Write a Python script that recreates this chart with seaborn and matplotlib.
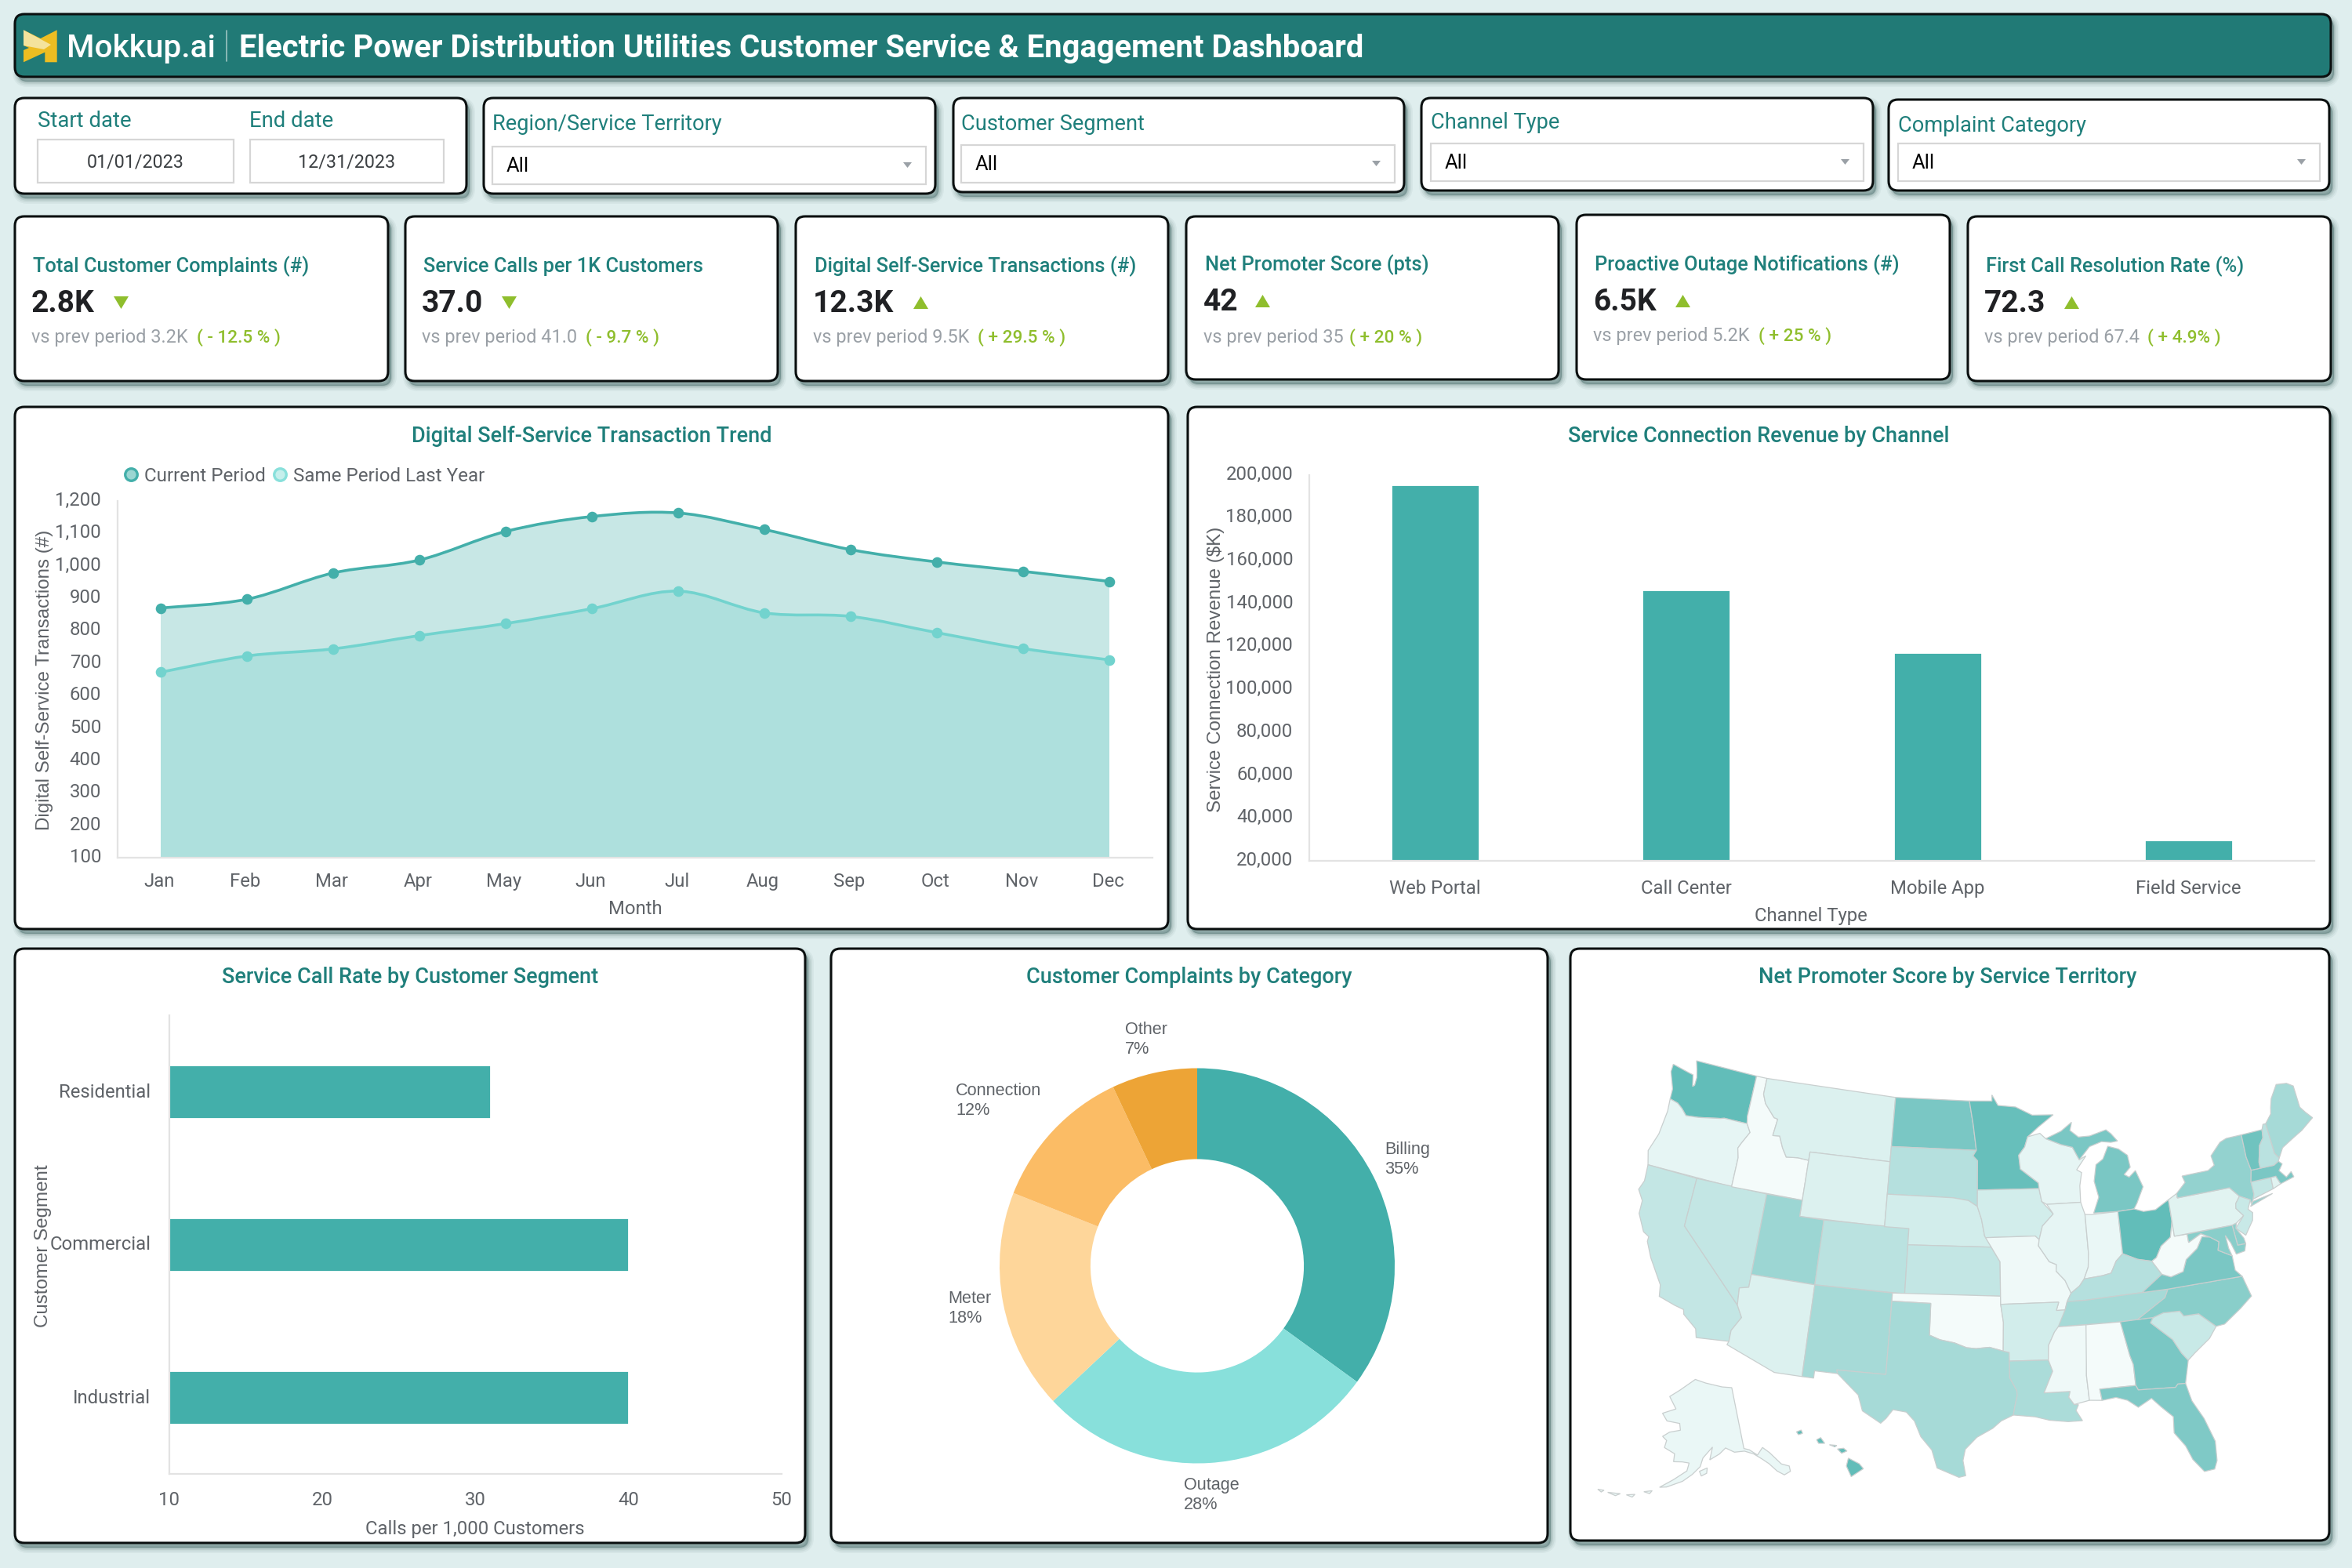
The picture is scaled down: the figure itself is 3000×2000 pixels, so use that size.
import numpy as np
import pandas as pd
import matplotlib
matplotlib.use("Agg")
import matplotlib.pyplot as plt
from matplotlib.patches import FancyBboxPatch, PathPatch, Rectangle
from matplotlib.path import Path
from matplotlib.lines import Line2D
from matplotlib.transforms import ScaledTranslation
import seaborn as sns

# ---- data ----
months = ['Jan', 'Feb', 'Mar', 'Apr', 'May', 'Jun', 'Jul', 'Aug', 'Sep', 'Oct', 'Nov', 'Dec']
current_period = [870, 897, 978, 1018, 1106, 1152, 1163, 1112, 1050, 1012, 983, 952]
last_year = [672, 722, 744, 785, 822, 868, 922, 855, 844, 794, 745, 710]

channels = ['Web Portal', 'Call Center', 'Mobile App', 'Field Service']
channel_revenue = [195400, 146300, 117300, 29700]

segments = ['Residential', 'Commercial', 'Industrial']
call_rate = [31, 40, 40]

complaint_cats = ['Billing', 'Outage', 'Meter', 'Connection', 'Other']
complaint_share = [35, 28, 18, 12, 7]
complaint_colors = ['#43AFAA', '#88E0DB', '#FED69A', '#FBBC65', '#EDA436']

kpi_titles = ['Total Customer Complaints (#)', 'Service Calls per 1K Customers',
              'Digital Self-Service Transactions (#)', 'Net Promoter Score (pts)',
              'Proactive Outage Notifications (#)', 'First Call Resolution Rate (%)']
kpi_values = ['2.8K', '37.0', '12.3K', '42', '6.5K', '72.3']
kpi_prev = ['vs prev period 3.2K', 'vs prev period 41.0', 'vs prev period 9.5K',
            'vs prev period 35', 'vs prev period 5.2K', 'vs prev period 67.4']
kpi_delta = ['( - 12.5 % )', '( - 9.7 % )', '( + 29.5 % )', '( + 20 % )', '( + 25 % )', '( + 4.9% )']

nps = {'WA': 60, 'OR': 33, 'CA': 40, 'NV': 40, 'ID': 30, 'MT': 35, 'WY': 35, 'UT': 48, 'AZ': 35, 'CO': 42,
       'NM': 46, 'ND': 55, 'SD': 43, 'NE': 37, 'KS': 40, 'OK': 30, 'TX': 46, 'MN': 59, 'IA': 37, 'MO': 31,
       'AR': 37, 'LA': 45, 'WI': 33, 'IL': 33, 'IN': 32, 'MI': 55, 'OH': 60, 'KY': 43, 'TN': 46, 'MS': 31,
       'AL': 30, 'GA': 55, 'FL': 54, 'SC': 39, 'NC': 52, 'VA': 55, 'WV': 30, 'PA': 34, 'NY': 50, 'NJ': 39,
       'DE': 51, 'MD': 52, 'CT': 40, 'RI': 34, 'MA': 55, 'VT': 57, 'NH': 42, 'ME': 46, 'AK': 32, 'HI': 60}

# rough state outlines, lon/lat
states = {
 'WA': [[(-124.7,48.38),(-123.1,48.15),(-122.7,48.1),(-122.45,47.4),(-122.3,47.5),(-122.3,48.0),(-122.5,48.5),(-122.75,49.0),(-117.03,49.0),(-117.04,46.42),(-116.92,45.99),(-118.98,46.0),(-119.3,45.93),(-121.2,45.65),(-122.3,45.55),(-122.8,45.9),(-123.3,46.15),(-124.05,46.27),(-124.1,46.9),(-124.7,47.9)]],
 'OR': [[(-124.05,46.27),(-123.3,46.15),(-122.8,45.9),(-122.3,45.55),(-121.2,45.65),(-119.3,45.93),(-118.98,46.0),(-116.92,45.99),(-116.5,45.5),(-117.03,44.75),(-117.24,44.4),(-117.03,43.83),(-117.03,42.0),(-124.21,42.0),(-124.55,42.84),(-124.1,44.0),(-123.95,45.5)]],
 'CA': [[(-124.21,42.0),(-120.0,42.0),(-120.0,39.0),(-114.63,35.0),(-114.14,34.3),(-114.72,33.4),(-114.72,32.72),(-117.12,32.53),(-117.3,33.05),(-118.4,33.75),(-118.5,34.03),(-119.2,34.15),(-120.5,34.45),(-120.65,35.15),(-121.9,36.6),(-122.5,37.5),(-122.5,37.8),(-123.0,38.0),(-123.75,39.0),(-123.8,39.8),(-124.35,40.4),(-124.1,41.0)]],
 'NV': [[(-120,42),(-114.04,42),(-114.04,36.2),(-114.74,36.05),(-114.63,35.0),(-120,39)]],
 'ID': [[(-117.03,49),(-116.05,49),(-116.05,48.0),(-115.7,47.45),(-114.7,46.7),(-114.35,46.65),(-114.5,45.6),(-113.9,45.65),(-113.45,44.95),(-113.0,44.45),(-112.0,44.53),(-111.05,44.48),(-111.05,42.0),(-117.03,42.0),(-117.03,43.83),(-117.24,44.4),(-117.03,44.75),(-116.5,45.5),(-116.92,45.99),(-117.04,46.42)]],
 'MT': [[(-116.05,49),(-104.05,49),(-104.05,45),(-111.05,45),(-111.05,44.48),(-112,44.53),(-113,44.45),(-113.45,44.95),(-113.9,45.65),(-114.5,45.6),(-114.35,46.65),(-114.7,46.7),(-115.7,47.45),(-116.05,48)]],
 'WY': [[(-111.05,45),(-104.05,45),(-104.05,41),(-111.05,41)]],
 'UT': [[(-114.04,42),(-111.05,42),(-111.05,41),(-109.05,41),(-109.05,37),(-114.04,37)]],
 'CO': [[(-109.05,41),(-102.05,41),(-102.05,37),(-109.05,37)]],
 'AZ': [[(-114.04,37),(-109.05,37),(-109.05,31.33),(-111.07,31.33),(-114.81,32.5),(-114.72,32.72),(-114.72,33.4),(-114.14,34.3),(-114.63,35),(-114.74,36.05),(-114.04,36.2)]],
 'NM': [[(-109.05,37),(-103.0,37),(-103.04,32),(-106.62,32),(-106.53,31.78),(-108.21,31.78),(-108.21,31.33),(-109.05,31.33)]],
 'ND': [[(-104.05,49),(-97.23,49),(-96.85,47.5),(-96.56,45.94),(-104.05,45.94)]],
 'SD': [[(-104.05,45.94),(-96.56,45.94),(-96.85,45.6),(-96.45,45.3),(-96.45,43.5),(-96.45,42.49),(-97.2,42.85),(-98.5,43.0),(-104.05,43)]],
 'NE': [[(-104.05,43),(-98.5,43),(-97.2,42.85),(-96.45,42.49),(-96.1,41.7),(-95.85,40.7),(-95.31,40),(-102.05,40),(-102.05,41),(-104.05,41)]],
 'KS': [[(-102.05,40),(-95.31,40),(-94.62,39.1),(-94.62,37),(-102.05,37)]],
 'OK': [[(-103,37),(-94.62,37),(-94.62,36.5),(-94.43,35.4),(-94.48,33.64),(-95.5,33.88),(-96.5,33.8),(-97.2,33.85),(-98.1,34.13),(-99.2,34.3),(-100,34.56),(-100,36.5),(-103,36.5)]],
 'TX': [[(-106.62,32),(-103.04,32),(-103,36.5),(-100,36.5),(-100,34.56),(-99.2,34.3),(-98.1,34.13),(-97.2,33.85),(-96.5,33.8),(-95.5,33.88),(-94.48,33.64),(-94.04,33.55),(-94.04,33.02),(-94.04,31.99),(-93.55,31.2),(-93.53,30.9),(-93.7,30.3),(-93.84,29.7),(-94.7,29.35),(-95.3,28.9),(-96.4,28.35),(-97.2,27.6),(-97.35,26.9),(-97.15,25.96),(-97.6,25.85),(-99.1,26.4),(-99.5,27.5),(-100.3,28.3),(-100.8,29.25),(-101.4,29.77),(-102.35,29.87),(-102.8,29.3),(-103.15,28.98),(-104.5,29.65),(-104.9,30.6),(-106.0,31.4),(-106.53,31.78)]],
 'MN': [[(-97.23,49),(-95.15,49),(-95.15,49.38),(-94.6,48.72),(-93,48.6),(-91.5,48.05),(-89.6,48.0),(-91.0,47.3),(-92.0,46.72),(-92.3,46.1),(-92.85,45.6),(-92.75,44.75),(-91.25,43.85),(-91.22,43.5),(-96.45,43.5),(-96.45,45.3),(-96.85,45.6),(-96.56,45.94),(-96.85,47.5)]],
 'IA': [[(-96.45,43.5),(-91.22,43.5),(-91.05,42.7),(-90.15,41.9),(-91.1,41.2),(-91.42,40.38),(-91.73,40.61),(-95.77,40.58),(-95.85,40.7),(-96.1,41.7),(-96.45,42.49)]],
 'MO': [[(-95.77,40.58),(-91.73,40.61),(-91.42,40.38),(-91.5,40.0),(-90.7,39.0),(-90.15,38.8),(-90.2,38.4),(-89.55,37.8),(-89.15,37.0),(-89.5,36.5),(-89.7,36.0),(-90.37,36.0),(-90.15,36.5),(-94.62,36.5),(-94.62,37),(-94.62,39.1),(-95.31,40)]],
 'AR': [[(-94.62,36.5),(-90.15,36.5),(-90.37,36),(-89.7,36),(-90.1,35.1),(-90.6,34.7),(-91.1,33.9),(-91.17,33.0),(-94.04,33.02),(-94.04,33.55),(-94.48,33.64),(-94.43,35.4)]],
 'LA': [[(-94.04,33.02),(-91.17,33.0),(-90.9,32.3),(-91.6,31.0),(-89.73,31.0),(-89.85,30.65),(-89.5,30.18),(-89.2,30.15),(-89.4,29.8),(-89.0,29.15),(-90.0,29.15),(-91.3,29.3),(-92.3,29.55),(-93.84,29.7),(-93.7,30.3),(-93.53,30.9),(-93.55,31.2),(-94.04,31.99)]],
 'WI': [[(-92.0,46.72),(-90.9,46.9),(-90.4,46.55),(-89.1,46.13),(-88.1,45.9),(-87.6,45.1),(-87.0,45.3),(-87.9,44.5),(-87.5,44.3),(-87.75,43.5),(-87.8,42.49),(-90.64,42.51),(-91.05,42.7),(-91.22,43.5),(-91.25,43.85),(-92.75,44.75),(-92.85,45.6),(-92.3,46.1)]],
 'IL': [[(-90.64,42.51),(-87.8,42.49),(-87.53,41.72),(-87.53,39.35),(-87.65,38.5),(-88.05,37.8),(-88.45,37.4),(-89.15,37.0),(-89.55,37.8),(-90.2,38.4),(-90.15,38.8),(-90.7,39),(-91.5,40.0),(-91.42,40.38),(-91.1,41.2),(-90.15,41.9)]],
 'IN': [[(-87.53,41.72),(-87.0,41.68),(-84.8,41.7),(-84.82,39.1),(-85.4,38.7),(-85.9,38.0),(-86.6,37.9),(-88.05,37.8),(-87.65,38.5),(-87.53,39.35)]],
 'MI': [[(-84.8,41.7),(-86.8,41.76),(-86.25,42.7),(-86.5,43.7),(-86.2,44.7),(-85.55,45.0),(-85.0,45.75),(-84.1,45.5),(-83.4,45.05),(-83.3,44.3),(-83.9,43.9),(-83.5,43.7),(-82.9,44.05),(-82.45,43.0),(-83.15,42.05),(-83.45,41.73)],
        [(-90.4,46.55),(-89.1,46.13),(-88.1,45.9),(-87.6,45.1),(-86.6,45.85),(-85.5,46.08),(-84.7,45.97),(-84.1,46.0),(-84.6,46.5),(-85.0,46.77),(-86.5,46.5),(-87.5,46.5),(-88.2,46.95),(-88.0,47.45),(-89.0,46.95)]],
 'OH': [[(-84.8,41.7),(-83.45,41.73),(-82.7,41.5),(-81.7,41.5),(-80.52,41.98),(-80.52,40.64),(-80.85,39.7),(-81.7,39.25),(-82.2,38.6),(-82.6,38.42),(-83.7,38.65),(-84.82,39.1)]],
 'KY': [[(-89.15,37.0),(-88.45,37.4),(-88.05,37.8),(-86.6,37.9),(-85.9,38.0),(-85.4,38.7),(-84.82,39.1),(-83.7,38.65),(-82.6,38.42),(-81.97,37.54),(-83.68,36.6),(-88.05,36.5),(-89.5,36.5)]],
 'TN': [[(-89.5,36.5),(-88.05,36.5),(-83.68,36.6),(-81.68,36.59),(-82.0,36.1),(-84.3,35.0),(-85.6,34.98),(-90.3,35.0),(-89.7,36)]],
 'MS': [[(-90.3,35),(-88.2,35),(-88.1,34.9),(-88.47,31.9),(-88.4,30.37),(-89.5,30.18),(-89.85,30.65),(-89.73,31),(-91.6,31),(-90.9,32.3),(-91.17,33),(-91.1,33.9),(-90.6,34.7)]],
 'AL': [[(-88.2,35),(-85.6,34.98),(-85.18,32.87),(-85.0,32.3),(-85.0,31.0),(-87.6,31.0),(-87.5,30.3),(-88.4,30.37),(-88.47,31.9)]],
 'GA': [[(-85.6,34.98),(-83.1,35),(-83.35,34.7),(-81.9,33.5),(-81.4,32.6),(-81.0,32.1),(-81.45,30.72),(-82.0,30.75),(-82.2,30.57),(-84.86,30.71),(-85,31),(-85,32.3),(-85.18,32.87)]],
 'FL': [[(-87.5,30.3),(-87.6,31),(-85,31),(-84.86,30.71),(-82.2,30.57),(-82.0,30.75),(-81.45,30.72),(-81.2,29.6),(-80.55,28.4),(-80.05,26.9),(-80.15,25.7),(-80.4,25.2),(-81.1,25.15),(-81.75,26.0),(-82.1,26.9),(-82.75,27.8),(-82.65,28.8),(-83.4,29.5),(-84.0,30.1),(-85.0,29.65),(-85.7,30.15),(-86.5,30.4)]],
 'SC': [[(-83.35,34.7),(-83.1,35),(-82.3,35.2),(-81.05,35.15),(-80.8,34.82),(-79.67,34.8),(-78.55,33.86),(-79.2,33.2),(-80.4,32.5),(-81.0,32.1),(-81.4,32.6),(-81.9,33.5)]],
 'NC': [[(-84.3,35),(-82.0,36.1),(-81.68,36.59),(-75.87,36.55),(-75.5,35.25),(-76.5,34.65),(-77.9,33.9),(-78.55,33.86),(-79.67,34.8),(-80.8,34.82),(-81.05,35.15),(-82.3,35.2),(-83.1,35)]],
 'VA': [[(-83.68,36.6),(-81.97,37.54),(-81.3,37.3),(-80.3,37.5),(-79.9,38.2),(-78.9,38.75),(-78.35,39.4),(-77.75,39.3),(-77.1,38.9),(-77.3,38.4),(-76.3,37.9),(-76.3,37.0),(-75.87,36.55),(-81.68,36.59)]],
 'WV': [[(-82.6,38.42),(-82.2,38.6),(-81.7,39.25),(-80.85,39.7),(-80.52,40.64),(-80.52,39.72),(-79.48,39.72),(-79.48,39.2),(-78.4,39.6),(-77.75,39.3),(-78.35,39.4),(-78.9,38.75),(-79.9,38.2),(-80.3,37.5),(-81.3,37.3),(-81.97,37.54)]],
 'PA': [[(-80.52,41.98),(-79.76,42.27),(-79.76,42.0),(-75.35,42.0),(-74.7,41.36),(-75.13,40.97),(-75.2,40.68),(-74.72,40.15),(-75.42,39.8),(-75.79,39.72),(-80.52,39.72),(-80.52,40.64)]],
 'NY': [[(-79.76,42.27),(-78.9,42.85),(-79.05,43.27),(-76.8,43.3),(-76.2,43.55),(-76.3,44.15),(-75.3,44.85),(-74.7,45.0),(-73.35,45.0),(-73.4,43.6),(-73.25,42.75),(-73.5,42.05),(-73.5,41.3),(-73.65,41.0),(-73.9,40.75),(-73.9,41.0),(-74.7,41.36),(-75.35,42),(-79.76,42)],
        [(-74.0,40.6),(-72.0,41.05),(-73.7,40.87)]],
 'NJ': [[(-74.7,41.36),(-73.9,41.0),(-74.25,40.47),(-73.95,40.2),(-74.1,39.75),(-74.9,38.95),(-75.55,39.5),(-74.72,40.15),(-75.2,40.68),(-75.13,40.97)]],
 'DE': [[(-75.79,39.72),(-75.42,39.8),(-75.55,39.5),(-75.1,38.8),(-75.05,38.45),(-75.7,38.46)]],
 'MD': [[(-79.48,39.72),(-75.79,39.72),(-75.7,38.46),(-75.05,38.45),(-75.25,38.03),(-75.95,37.95),(-76.2,38.7),(-76.5,39.2),(-76.45,38.4),(-76.3,37.9),(-77.3,38.4),(-77.1,38.9),(-77.75,39.3),(-78.4,39.6),(-79.48,39.2)]],
 'CT': [[(-73.5,42.05),(-71.8,42.02),(-71.85,41.32),(-73.65,41.0),(-73.5,41.3)]],
 'RI': [[(-71.8,42.02),(-71.38,42.02),(-71.15,41.5),(-71.85,41.32)]],
 'MA': [[(-73.5,42.05),(-73.25,42.75),(-71.3,42.7),(-70.85,42.87),(-70.6,42.65),(-71.0,42.3),(-70.55,41.8),(-70.05,42.05),(-69.95,41.7),(-71.15,41.5),(-71.38,42.02),(-71.8,42.02)]],
 'VT': [[(-73.35,45),(-71.5,45),(-71.6,44.5),(-72.05,44.1),(-72.45,43.1),(-72.46,42.73),(-73.25,42.75),(-73.4,43.6)]],
 'NH': [[(-71.5,45.0),(-71.3,45.3),(-71.05,45.3),(-70.98,43.4),(-70.7,43.05),(-70.85,42.87),(-71.3,42.7),(-72.46,42.73),(-72.45,43.1),(-72.05,44.1),(-71.6,44.5)]],
 'ME': [[(-71.05,45.3),(-70.4,45.8),(-70.25,46.2),(-70.0,46.7),(-69.22,47.46),(-68.3,47.35),(-67.79,47.07),(-67.79,45.7),(-67.45,45.3),(-67.0,44.85),(-68.2,44.3),(-69.1,44.0),(-70.2,43.6),(-70.7,43.05),(-70.98,43.4)]],
 'HI': [[(-155.9,20.25),(-155.1,19.85),(-154.8,19.5),(-155.7,18.95),(-156.05,19.7)],
        [(-156.7,20.9),(-156.25,20.95),(-156.0,20.75),(-156.4,20.6)],
        [(-158.25,21.55),(-157.95,21.7),(-157.65,21.3),(-158.1,21.3)],
        [(-159.75,22.1),(-159.4,22.23),(-159.3,22.0),(-159.6,21.9)],
        [(-157.3,21.2),(-156.75,21.15),(-156.9,21.05)]],
 'AK': [[(-141,69.65),(-141,60.3),(-139.5,59.95),(-137.5,58.9),(-135.5,59.8),(-134,58.8),(-131.8,56.6),(-130,55.9),(-130.2,55.1),(-132,54.9),(-133.5,55.8),(-135,57.2),(-136.6,58.2),(-138.5,59.2),(-141,59.9),(-144,60.0),(-146.5,60.8),(-148.5,60),(-151.5,59.2),(-150.5,61.1),(-153.5,59.5),(-154.3,58.2),(-156.5,57),(-159,55.9),(-163,54.8),(-164.8,54.6),(-161.5,56),(-158,57.5),(-157.5,58.7),(-159.5,58.8),(-162,58.7),(-162,59.9),(-165.3,60.6),(-165,61.7),(-166.5,62.2),(-164.5,63),(-161,63.5),(-161.5,64.5),(-166,64.6),(-168.1,65.6),(-164,66.5),(-163.5,66.6),(-166.7,68.3),(-163,69.5),(-156.7,71.35),(-152,70.8),(-145,70.0)],
        [(-154.5,57.5),(-152.3,58),(-152.5,57.2),(-154,56.8)],
        [(-168.5,53.5),(-166.5,53.9),(-167,53.4)],
        [(-172.5,52.4),(-170.5,52.8),(-171,52.3)],
        [(-177,51.9),(-174,52.3),(-175,51.8)],
        [(-179.5,51.8),(-178,52.0),(-178.5,51.6)]],
}

# ---- style ----
sns.set_theme(style="white")
plt.rcParams['font.family'] = ['Roboto', 'DejaVu Sans']

TEAL = '#1F7F7B'
GRAY = '#5F6368'
LGRAY = '#9AA0A6'
GREEN = '#8FBE2D'
BAR = '#43AFAA'
AXIS = '#E3E3E3'

W, H = 3000, 2000
fig = plt.figure(figsize=(15, 10), dpi=200, facecolor='#DFEEEE')
bg = fig.add_axes([0, 0, 1, 1], zorder=0)
bg.set_xlim(0, W)
bg.set_ylim(H, 0)
bg.axis('off')


def ax_px(x0, y0, x1, y1):
    ax = fig.add_axes([x0/W, 1-y1/H, (x1-x0)/W, (y1-y0)/H], zorder=2)
    ax.patch.set_alpha(0)
    return ax


def card(x0, y0, x1, y1, fc='white', r=12):
    for lw, al in [(5, .05), (3.5, .07), (2, .10), (.8, .14)]:
        bg.add_patch(FancyBboxPatch((x0+4, y0+6), x1-x0, y1-y0, boxstyle='round,pad=0,rounding_size=%d' % r,
                                    fc='#234B48', ec='#234B48', lw=lw, alpha=al, zorder=1))
    bg.add_patch(FancyBboxPatch((x0, y0), x1-x0, y1-y0, boxstyle='round,pad=0,rounding_size=%d' % r,
                                fc=fc, ec='#0A0F0F', lw=1.1, zorder=2))


def txt(x, y, s, size=8.5, color=GRAY, weight='normal', ha='left', **kw):
    # va center sits a touch high for these fonts
    return bg.text(x, y+2, s, fontsize=size, color=color, fontweight=weight, ha=ha, va='center', zorder=5, **kw)


def input_box(x0, y0, x1, y1):
    bg.add_patch(Rectangle((x0, y0), x1-x0, y1-y0, fc='white', ec='#D6D6D6', lw=.8, zorder=3))


def clean_axis(ax):
    sns.despine(ax=ax)
    for s in ['left', 'bottom']:
        ax.spines[s].set_color(AXIS)
        ax.spines[s].set_linewidth(.8)
    ax.tick_params(length=0, labelsize=8.6, labelcolor=GRAY)


def nudge(labels, dx=0, dy=0):
    # shift tick labels by a few pixels (image px at 200 dpi, dy up)
    for t in labels:
        t.set_transform(t.get_transform() + ScaledTranslation(dx/200, dy/200, fig.dpi_scale_trans))


def smooth_path(xs, ys, close_to=None):
    # cubic segments through the data points
    p = np.column_stack([xs, ys]).astype(float)
    verts, codes = [tuple(p[0])], [Path.MOVETO]
    for i in range(len(p)-1):
        prev = p[max(i-1, 0)]
        nxt = p[min(i+2, len(p)-1)]
        verts += [tuple(p[i]+(p[i+1]-prev)/6), tuple(p[i+1]-(nxt-p[i])/6), tuple(p[i+1])]
        codes += [Path.CURVE4]*3
    if close_to is not None:
        verts += [(p[-1, 0], close_to), (p[0, 0], close_to), tuple(p[0])]
        codes += [Path.LINETO, Path.LINETO, Path.CLOSEPOLY]
    return Path(verts, codes)


# ---- header ----
card(19, 18, 2973, 98, fc='#217A76')
bg.fill([30, 51.7, 72.7, 72.7, 57.3, 57.3, 30, 30, 37, 30], [38.3, 49, 38.3, 79.3, 79.3, 66.7, 79.3, 64, 61, 58],
        color='#EDBD22', lw=0, zorder=4)
bg.fill([30, 65, 56, 30], [38.3, 57, 63, 58], color='#F4E39C', lw=0, zorder=4)
txt(85, 60, 'Mokkup.ai', size=14.6, color='white', weight='medium')
bg.plot([289, 289], [39, 78], color='#9CC4C1', lw=.6, zorder=4)
txt(305, 60, 'Electric Power Distribution Utilities Customer Service & Engagement Dashboard',
    size=14.4, color='white', weight='bold')

# ---- filters ----
card(19, 125, 595, 247)
txt(48, 153, 'Start date', size=9.9, color=TEAL)
txt(318, 153, 'End date', size=9.9, color=TEAL)
input_box(48, 178, 298, 233)
input_box(319, 178, 566, 233)
txt(173, 205, '01/01/2023', size=8.4, color='#3C4043', ha='center')
txt(442, 205, '12/31/2023', size=8.4, color='#3C4043', ha='center')

filter_titles = ['Region/Service Territory', 'Customer Segment', 'Channel Type', 'Complaint Category']
filter_panels = [(617, 125, 1193, 247), (1216, 125, 1791, 245), (1813, 125, 2389, 243), (2409, 127, 2971, 243)]
filter_inputs = [(628, 187, 1181, 235), (1226, 185, 1779, 233), (1825, 183, 2377, 231), (2421, 183, 2959, 231)]
filter_title_y = [156, 156, 155, 158]
for name, pn, bx, ty in zip(filter_titles, filter_panels, filter_inputs, filter_title_y):
    card(*pn)
    t = txt(bx[0], ty, name, size=9.8, color=TEAL)
    if name.startswith('Complaint'):
        clip = Rectangle((bx[0]-5, ty-25), 500, 35, transform=bg.transData)
        t.set_clip_path(clip)
    input_box(*bx)
    my = (bx[1]+bx[3])/2
    txt(bx[0]+18, my-1, 'All', size=9.2, color='black')
    bg.fill([bx[2]-29, bx[2]-18, bx[2]-23.5], [my-4, my-4, my+3], color='#9AA0A6', lw=0, zorder=5)

# ---- KPI cards ----
kpi_cards = [(19, 276, 495, 486), (517, 276, 992, 486), (1015, 276, 1490, 486),
             (1513, 276, 1988, 484), (2011, 274, 2487, 484), (2510, 276, 2973, 486)]
kpi_x = [40, 538, 1037, 1535, 2032, 2531]
kpi_title_y = [338, 338, 338, 336, 336, 338]
kpi_val_y = [386, 386, 386, 384, 384, 386]
kpi_sub_y = [429, 429, 429, 429, 427, 429]
kpi_tri_x = [145, 640, 1165, 1601, 2137, 2633]
kpi_delta_x = [251, 747, 1247, 1721, 2243, 2739]
for i in range(6):
    card(*kpi_cards[i])
    txt(kpi_x[i]+2, kpi_title_y[i], kpi_titles[i], size=9.15, color=TEAL, weight='medium')
    txt(kpi_x[i], kpi_val_y[i], kpi_values[i], size=14, color='#202124', weight='bold')
    tx = kpi_tri_x[i]
    ty = kpi_val_y[i]-8
    if i < 2:
        bg.fill([tx, tx+19, tx+9.5], [ty, ty, ty+16], color=GREEN, lw=0, zorder=5)
    else:
        bg.fill([tx, tx+19, tx+9.5], [ty+16, ty+16, ty], color=GREEN, lw=0, zorder=5)
    txt(kpi_x[i], kpi_sub_y[i], kpi_prev[i], size=8.45, color=LGRAY)
    txt(kpi_delta_x[i], kpi_sub_y[i], kpi_delta[i], size=8.1, color=GREEN, weight='medium')

# ---- trend ----
card(19, 519, 1490, 1185)
txt(755, 555, 'Digital Self-Service Transaction Trend', size=9.75, color=TEAL, weight='medium', ha='center')
ax = ax_px(150, 639, 1470, 1094)
trend = pd.DataFrame({'month': months, 'current': current_period, 'prev': last_year})
xpos = np.arange(len(months))
ax.add_patch(PathPatch(smooth_path(xpos, current_period, 100), fc='#C7E7E5', ec='none'))
ax.add_patch(PathPatch(smooth_path(xpos, last_year, 100), fc='#AEE0DD', ec='none'))
ax.add_patch(PathPatch(smooth_path(xpos, current_period), fc='none', ec=BAR, lw=1.3))
ax.add_patch(PathPatch(smooth_path(xpos, last_year), fc='none', ec='#72D3CE', lw=1.3))
sns.scatterplot(data=trend, x='month', y='current', color=BAR, s=24, linewidth=0, ax=ax, zorder=4)
sns.scatterplot(data=trend, x='month', y='prev', color='#72D3CE', s=24, linewidth=0, ax=ax, zorder=4)
ax.set_xlim(-.5, 11.5)
ax.set_ylim(100, 1200)
ax.set_yticks(range(100, 1300, 100))
ax.yaxis.set_major_formatter(matplotlib.ticker.StrMethodFormatter('{x:,.0f}'))
clean_axis(ax)
ax.tick_params(axis='y', pad=7.5)
ax.tick_params(axis='x', pad=7)
nudge(ax.get_yticklabels(), dy=3)
nudge(ax.get_xticklabels(), dx=-2)
ax.set_xlabel('Month', fontsize=8.6, color=GRAY, va='center')
ax.xaxis.set_label_coords(810, 1160, transform=bg.transData)
ax.set_ylabel('Digital Self-Service Transactions (#)', fontsize=8.7, color=GRAY, family='Liberation Sans', va='center')
ax.yaxis.set_label_coords(57, 867, transform=bg.transData)
leg_handles = [Line2D([], [], marker='o', ls='', ms=5.6, mfc='#9BD6D2', mec=BAR, mew=1.2),
               Line2D([], [], marker='o', ls='', ms=5.6, mfc='#C5EFEC', mec='#88E0DB', mew=1.2)]
ax.legend(leg_handles, ['Current Period', 'Same Period Last Year'], ncol=2, frameon=False, fontsize=8.7,
          labelcolor=GRAY, loc='center left', bbox_to_anchor=(.001, 1.07), borderpad=0, borderaxespad=0,
          handletextpad=.05, columnspacing=.1, handlelength=1.3)

# ---- revenue by channel ----
card(1515, 519, 2972, 1185)
txt(2243, 555, 'Service Connection Revenue by Channel', size=9.75, color=TEAL, weight='medium', ha='center')
ax = ax_px(1670, 605.5, 2952, 1098)
sns.barplot(x=channels, y=channel_revenue, color=BAR, saturation=1, width=.353, ax=ax)
ax.set_ylim(20000, 200000)
ax.set_yticks(range(20000, 220000, 20000))
ax.yaxis.set_major_formatter(matplotlib.ticker.StrMethodFormatter('{x:,.0f}'))
clean_axis(ax)
ax.tick_params(axis='y', pad=7.5)
ax.tick_params(axis='x', pad=8.5)
nudge(ax.get_yticklabels(), dy=3)
ax.set_xlabel('Channel Type', fontsize=8.6, color=GRAY, va='center')
ax.xaxis.set_label_coords(2310, 1168, transform=bg.transData)
ax.set_ylabel('Service Connection Revenue ($K)', fontsize=8.7, color=GRAY, family='Liberation Sans', va='center')
ax.yaxis.set_label_coords(1551, 854, transform=bg.transData)

# ---- call rate ----
card(19, 1210, 1027, 1968)
txt(523, 1245, 'Service Call Rate by Customer Segment', size=9.75, color=TEAL, weight='medium', ha='center')
ax = ax_px(216, 1295, 997, 1880)
sns.barplot(y=segments, x=call_rate, color=BAR, saturation=1, width=.35, orient='h', ax=ax)
ax.set_xlim(10, 50)
ax.set_xticks(range(10, 60, 10))
clean_axis(ax)
ax.tick_params(axis='y', pad=8.5)
ax.tick_params(axis='x', pad=8)
nudge(ax.get_yticklabels(), dy=2)
ax.set_xlabel('Calls per 1,000 Customers', fontsize=8.6, color=GRAY, va='center')
ax.xaxis.set_label_coords(606, 1951, transform=bg.transData)
ax.set_ylabel('Customer Segment', fontsize=8.7, color=GRAY, family='Liberation Sans', va='center')
ax.yaxis.set_label_coords(55, 1589, transform=bg.transData)

# ---- complaints donut ----
card(1060, 1210, 1974, 1968)
txt(1517, 1245, 'Customer Complaints by Category', size=9.75, color=TEAL, weight='medium', ha='center')
ax = ax_px(1527-252, 1614.5-252, 1527+252, 1614.5+252)
labels = ['%s\n%d%%' % (c, v) for c, v in zip(complaint_cats, complaint_share)]
wedges, texts = ax.pie(complaint_share, labels=labels, colors=complaint_colors, startangle=90, counterclock=False,
                       radius=1, wedgeprops=dict(width=.46, linewidth=0, edgecolor='none'), labeldistance=1.15,
                       textprops=dict(fontsize=7.8, color=GRAY, family='Liberation Sans', multialignment='left'))
ax.set_xlim(-1, 1)
ax.set_ylim(-1, 1)
label_left = [1766, 1510, 1209, 1219, 1435]
label_y = [1479, 1907, 1669, 1404, 1326]
for t, lx, ly in zip(texts, label_left, label_y):
    t.set_position(((lx-1527)/252, (1614.5-ly)/252))
    t.set_ha('left')
    t.set_va('center')
    t.set_clip_on(False)

# ---- NPS map ----
card(2003, 1210, 2971, 1965)
txt(2484, 1245, 'Net Promoter Score by Service Territory', size=9.75, color=TEAL, weight='medium', ha='center')
ax = ax_px(2003, 1210, 2971, 1965)
ax.axis('off')
km_x, km_y = .1872, .186
ax.set_xlim((2003-2529)/km_x, (2971-2529)/km_x)
ax.set_ylim((1643-1965)/km_y, (1643-1210)/km_y)


def albers(lon, lat, lon0=-96., lat0=37.5, p1=29.5, p2=45.5):
    r = np.pi/180
    lon, lat = np.asarray(lon)*r, np.asarray(lat)*r
    p1, p2, lon0, lat0 = p1*r, p2*r, lon0*r, lat0*r
    n = (np.sin(p1)+np.sin(p2))/2
    c = np.cos(p1)**2+2*n*np.sin(p1)
    rho = 6371*np.sqrt(c-2*n*np.sin(lat))/n
    rho0 = 6371*np.sqrt(c-2*n*np.sin(lat0))/n
    th = n*(lon-lon0)
    return rho*np.sin(th), rho0-rho*np.cos(th)


cmap = sns.blend_palette(['#F4FBFA', '#62BDB9'], as_cmap=True)
for st, rings in states.items():
    col = cmap((nps[st]-30)/30)
    for ring in rings:
        lon, lat = zip(*ring)
        if st == 'AK':
            x, y = albers(lon, lat, -154, 63, 55, 65)
            x, y = x*.41-1918, y*.41-1005
        elif st == 'HI':
            x, y = albers(lon, lat, -157.5, 20.8, 8, 18)
            x, y = x*.88-1063, y*.88-1113
        else:
            x, y = albers(lon, lat)
        ax.fill(x, y, fc=col, ec='#C9CFCF', lw=.45)

fig.savefig('out.png', dpi=200, facecolor=fig.get_facecolor())
